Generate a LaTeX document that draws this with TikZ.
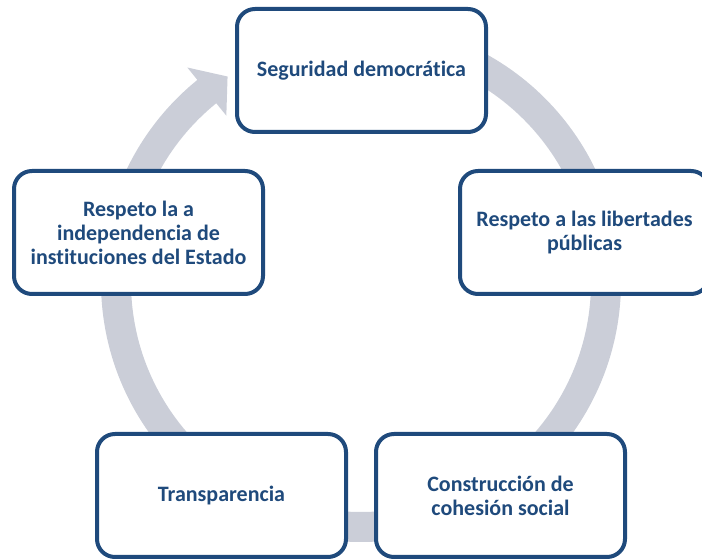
\documentclass[tikz,border=0pt]{standalone}
\usepackage{fontspec}
\setmainfont{Carlito}[Ligatures=NoCommon]
\usetikzlibrary{calc}
\definecolor{darkblue}{HTML}{1F4A7C}
\definecolor{ringgray}{HTML}{CBCED8}

\begin{document}
\begin{tikzpicture}
  [x=1pt,y=1pt,
   stage/.style={
    rectangle,
    rounded corners=18pt,
    draw=darkblue,
    line width=4pt,
    fill=white,
    minimum width=249pt,
    minimum height=123pt,
    align=center,
    text=darkblue,
    font=\fontsize{22}{24}\selectfont\bfseries
    }
  ]
  \useasboundingbox (0,0) rectangle (702,559);
  \clip (0,0) rectangle (702,559);

  % anillo con flecha
  \coordinate (centre) at (361,277);
  \draw[ringgray, line width=30pt] ($(centre)+(90:245)$) arc[start angle=90, end angle=-232, radius=245];
  \fill[ringgray] ($(centre)+(129:276)$) -- ($(centre)+(123:245)$) -- ($(centre)+(129:214)$) -- cycle;

  \node[stage] (seguridad) at (361.5,488.5) {Seguridad democrática};
  \node[stage] (libertades) at (584.5,326.5) {Respeto a las libertades\\públicas};
  \node[stage] (cohesion) at (500.5,63.5) {Construcción de\\cohesión social};
  \node[stage] (transparencia) at (221.5,63.5) {Transparencia};
  \node[stage] (independencia) at (138.5,326.5) {Respeto la a\\independencia de\\instituciones del Estado};
\end{tikzpicture}
\end{document}
